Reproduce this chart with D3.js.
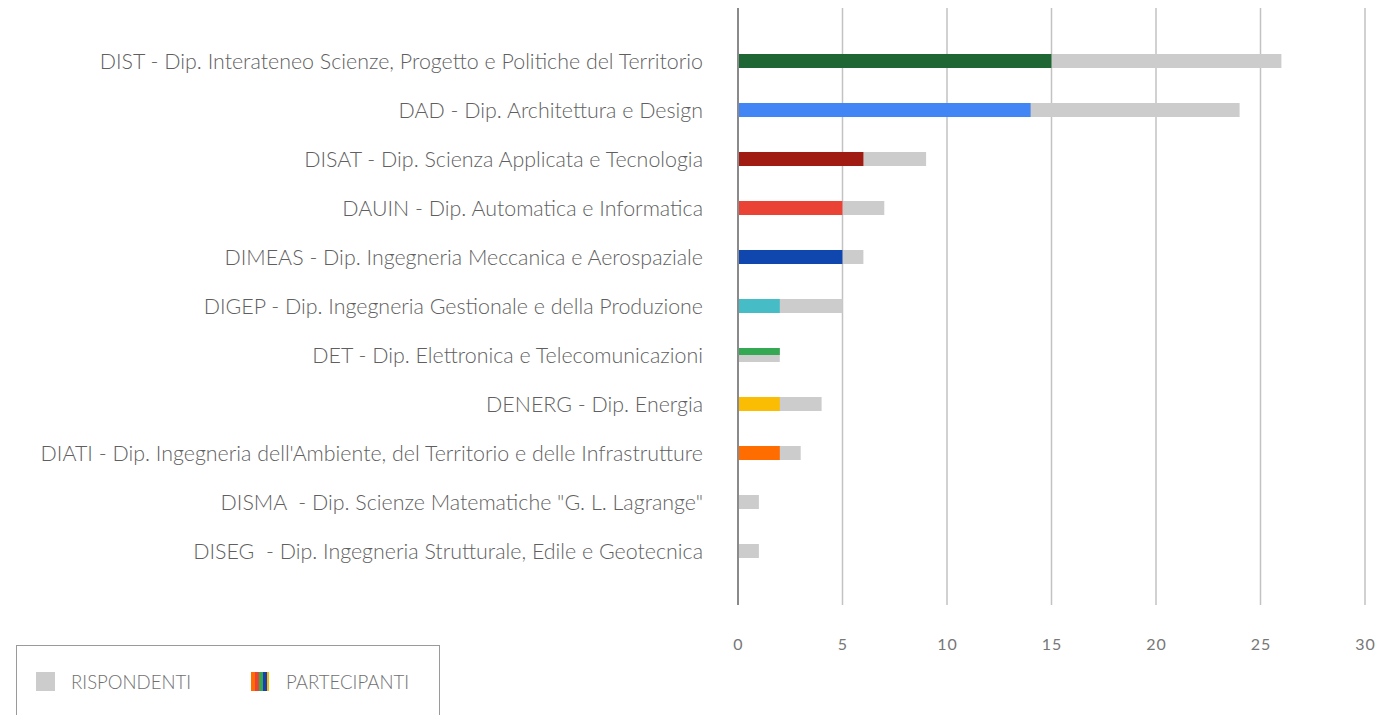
<!DOCTYPE html>
<html><head><meta charset="utf-8">
<script src="https://cdn.jsdelivr.net/npm/d3@7"></script>
<style>html,body{margin:0;padding:0;background:#fff;}</style>
</head><body><svg id="c" width="1384" height="715"></svg>
<script>
const categories = [
  "DIST - Dip. Interateneo Scienze, Progetto e Politiche del Territorio",
  "DAD - Dip. Architettura e Design",
  "DISAT - Dip. Scienza Applicata e Tecnologia",
  "DAUIN - Dip. Automatica e Informatica",
  "DIMEAS - Dip. Ingegneria Meccanica e Aerospaziale",
  "DIGEP - Dip. Ingegneria Gestionale e della Produzione",
  "DET - Dip. Elettronica e Telecomunicazioni",
  "DENERG - Dip. Energia",
  "DIATI - Dip. Ingegneria dell'Ambiente, del Territorio e delle Infrastrutture",
  "DISMA  - Dip. Scienze Matematiche \"G. L. Lagrange\"",
  "DISEG  - Dip. Ingegneria Strutturale, Edile e Geotecnica"
];
const rispondenti = [26, 24, 9, 7, 6, 5, 2, 4, 3, 1, 1];
const partecipanti = [15, 14, 6, 5, 5, 2, 2, 2, 2, 0, 0];
const barColors = ["#1e6633","#4285f4","#a01c13","#ea4335","#0f47af","#46bdc6","#34a853","#fbbc04","#ff6d01","#cccccc","#cccccc"];
const xTicks = [0, 5, 10, 15, 20, 25, 30];
const legendLabels = ["RISPONDENTI", "PARTECIPANTI"];
const legendStripes = ["#ff6d01", "#ea4335", "#34a853", "#1a3fb0", "#fbbc04"];

const svg = d3.select("#c");
const x = d3.scaleLinear().domain([0, 30]).range([738, 1365]);
const y = d3.scaleBand().domain(categories).range([36.5, 575.5]).paddingInner(0.714).paddingOuter(0.357);

// grid
svg.append("g").selectAll("line").data(xTicks.filter(d => d > 0)).join("line")
  .attr("x1", d => x(d)).attr("x2", d => x(d)).attr("y1", 8).attr("y2", 605)
  .attr("stroke", "#c2c2c2").attr("stroke-width", 1.5);

const data = categories.map((c, i) => ({c, r: rispondenti[i], p: partecipanti[i], col: barColors[i]}));
// gray bars
svg.append("g").selectAll("rect").data(data).join("rect")
  .attr("x", x(0)).attr("y", d => y(d.c))
  .attr("width", d => x(d.r) - x(0)).attr("height", y.bandwidth())
  .attr("fill", "#cccccc");
// colored bars
svg.append("g").selectAll("rect").data(data.filter(d => d.p > 0)).join("rect")
  .attr("x", x(0)).attr("y", d => y(d.c))
  .attr("width", d => x(d.p) - x(0))
  .attr("height", d => d.p === d.r ? y.bandwidth() / 2 : y.bandwidth())
  .attr("fill", d => d.col);

// zero axis
svg.append("line").attr("x1", x(0)).attr("x2", x(0)).attr("y1", 8).attr("y2", 605)
  .attr("stroke", "#8a8a8a").attr("stroke-width", 2);

// category labels
svg.append("g").selectAll("text").data(data).join("text")
  .attr("x", 703).attr("y", d => y(d.c) + y.bandwidth() / 2)
  .attr("dy", "0.36em").attr("text-anchor", "end")
  .attr("font-family", "Lato, 'Open Sans', sans-serif").attr("font-weight", 300)
  .attr("font-size", 21.4).attr("fill", "#5f5f5f")
  .attr("xml:space", "preserve").style("white-space", "pre")
  .text(d => d.c);

// x tick labels
const xAxis = d3.axisBottom(x).tickValues(xTicks).tickSize(0).tickPadding(0);
const gx = svg.append("g").attr("transform", "translate(0,639)").call(xAxis);
gx.select(".domain").remove();
gx.selectAll("text").attr("font-family", "Lato, sans-serif").attr("font-size", 16)
  .attr("font-weight", 400).attr("fill", "#777777").attr("letter-spacing", "1px");

// legend
const lg = svg.append("g");
lg.append("rect").attr("x", 16.5).attr("y", 645.5).attr("width", 423).attr("height", 90)
  .attr("fill", "none").attr("stroke", "#9a9a9a").attr("stroke-width", 1);
lg.append("rect").attr("x", 36).attr("y", 672).attr("width", 19).attr("height", 19).attr("fill", "#cccccc");
const sw = 4;
lg.append("g").selectAll("rect").data(legendStripes).join("rect")
  .attr("x", (d, i) => 251 + i * sw).attr("y", 672).attr("width", (d, i) => i === legendStripes.length - 1 ? 2 : sw).attr("height", 19)
  .attr("fill", d => d);
lg.selectAll("text.l").data(legendLabels).join("text").attr("class", "l")
  .attr("x", (d, i) => i === 0 ? 71 : 286).attr("y", 682).attr("dy", "0.36em")
  .attr("font-family", "Lato, sans-serif").attr("font-weight", 300).attr("font-size", 18.6)
  .attr("fill", "#707070").text(d => d);
</script>
</body></html>
